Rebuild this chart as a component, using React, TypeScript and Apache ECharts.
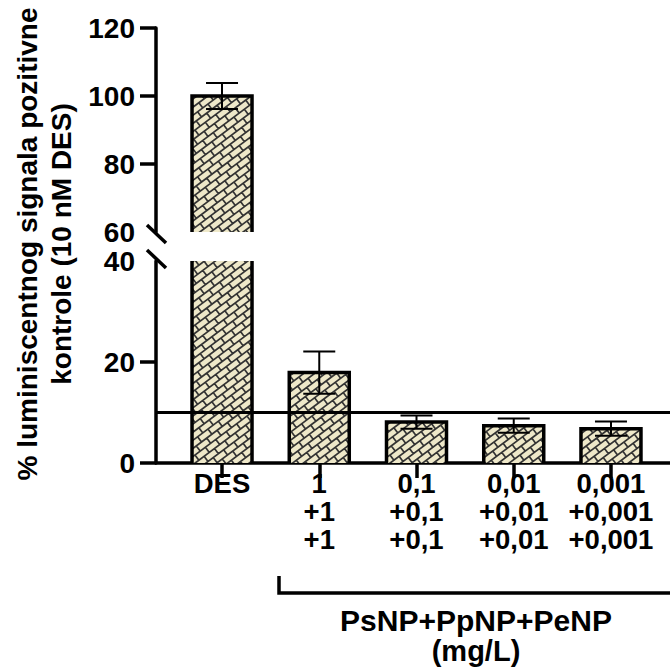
import React, { useEffect, useRef } from 'react';
import * as echarts from 'echarts';

// ---------- data ----------
const categories = ['DES', '1\n+1\n+1', '0,1\n+0,1\n+0,1', '0,01\n+0,01\n+0,01', '0,001\n+0,001\n+0,001'];
const means = [100, 17.9, 8.1, 7.4, 6.8];
const errors = [3.8, 4.2, 1.3, 1.4, 1.4];
const thresholdValue = 10;
const upperRange = [60, 120];
const lowerRange = [0, 40];
const upperTickValues = [80, 100, 120];
const lowerTickValues = [0, 20];
const yTitleLines = ['% luminiscentnog signala pozitivne', 'kontrole (10 nM DES)'];
const groupLabelLines = ['PsNP+PpNP+PeNP', '(mg/L)'];

// ---------- style / layout ----------
const FONT = "'Liberation Sans', Arial, sans-serif";
const BRICK_LIGHT = '#EEE8C9';
const BRICK_DARK = '#333333';
const X_MIN = -0.679;
const X_MAX = 4.607;
const BAR_HALF = 30;
const CAP_HALF = 16;

function makeBrickPattern(): any {
  const T = 65;
  const L = T / 5;
  const H = T / 10;
  const c = document.createElement('canvas');
  c.width = T;
  c.height = T;
  const ctx = c.getContext('2d')!;
  ctx.fillStyle = BRICK_LIGHT;
  ctx.fillRect(0, 0, T, T);
  ctx.setTransform(0.8, -0.6, 0.6, 0.8, 0, 0);
  ctx.strokeStyle = BRICK_DARK;
  ctx.lineWidth = 1.7;
  ctx.beginPath();
  const R = T * 1.7;
  const jMin = Math.floor(-R / H), jMax = Math.ceil(R / H);
  const kMin = Math.floor(-R / L) - 1, kMax = Math.ceil(R / L) + 1;
  for (let j = jMin; j <= jMax; j++) {
    const v = j * H;
    ctx.moveTo(-R - L, v);
    ctx.lineTo(R + L, v);
    const off = j % 2 !== 0 ? L / 2 : 0;
    for (let k = kMin; k <= kMax; k++) {
      const u = k * L + off;
      ctx.moveTo(u, v);
      ctx.lineTo(u, v + H);
    }
  }
  ctx.stroke();
  return { image: c, repeat: 'repeat', imageWidth: T, imageHeight: T };
}

export default function App() {
  const ref = useRef<HTMLDivElement>(null);
  useEffect(() => {
    document.body.style.margin = '0';
    const chart = echarts.init(ref.current!, null, { renderer: 'svg' });
    const pattern = makeBrickPattern();
    const data = means.map((m, i) => [i, m, errors[i]]);
    const stroke = { stroke: '#000', lineWidth: 3.5, fill: 'none', lineJoin: 'miter', lineCap: 'butt' };
    const errStroke = { stroke: '#000', lineWidth: 2, fill: 'none' };

    const makeRender = (lo: number, hi: number) => (_p: any, api: any) => {
      const i = api.value(0);
      const v = api.value(1);
      const e = api.value(2);
      const children: any[] = [];
      if (v > lo) {
        const top = Math.min(v, hi);
        const pT = api.coord([i, top]);
        const pB = api.coord([i, lo]);
        const x0 = pT[0] - BAR_HALF;
        const x1 = pT[0] + BAR_HALF;
        children.push({
          type: 'rect',
          shape: { x: x0, y: pT[1], width: x1 - x0, height: pB[1] - pT[1] },
          style: { fill: pattern },
        });
        if (v <= hi) {
          children.push({
            type: 'polyline',
            shape: { points: [[x0, pB[1]], [x0, pT[1]], [x1, pT[1]], [x1, pB[1]]] },
            style: stroke,
          });
        } else {
          children.push({ type: 'line', shape: { x1: x0, y1: pB[1], x2: x0, y2: pT[1] }, style: stroke });
          children.push({ type: 'line', shape: { x1: x1, y1: pB[1], x2: x1, y2: pT[1] }, style: stroke });
        }
      }
      if (v >= lo && v <= hi) {
        const pU = api.coord([i, v + e]);
        const pD = api.coord([i, v - e]);
        const cx = pU[0];
        children.push({ type: 'line', shape: { x1: cx, y1: pU[1], x2: cx, y2: pD[1] }, style: errStroke });
        children.push({ type: 'line', shape: { x1: cx - CAP_HALF, y1: pU[1], x2: cx + CAP_HALF, y2: pU[1] }, style: errStroke });
        children.push({ type: 'line', shape: { x1: cx - CAP_HALF, y1: pD[1], x2: cx + CAP_HALF, y2: pD[1] }, style: errStroke });
      }
      return { type: 'group', children };
    };

    const labelStyle = { color: '#000', fontFamily: FONT, fontWeight: 'bold' as const };
    const axisLineStyle = { color: '#000', width: 3.5 };

    chart.setOption({
      animation: false,
      backgroundColor: '#fff',
      grid: [
        { left: 156, right: 0, top: 28, height: 204 },
        { left: 156, right: 0, top: 261, height: 202 },
      ],
      xAxis: [
        { type: 'value', gridIndex: 0, min: X_MIN, max: X_MAX, show: false },
        {
          type: 'value',
          gridIndex: 1,
          min: X_MIN,
          max: X_MAX,
          splitLine: { show: false },
          axisLine: { show: true, onZero: false, lineStyle: axisLineStyle },
          axisTick: { show: true, customValues: [0, 1, 2, 3, 4], length: 15, lineStyle: axisLineStyle },
          axisLabel: {
            customValues: [0, 1, 2, 3, 4],
            formatter: (v: number) => categories[Math.round(v)],
            fontSize: 27.5,
            lineHeight: 28,
            margin: 6,
            ...labelStyle,
          },
        },
      ],
      yAxis: [
        {
          type: 'value',
          gridIndex: 0,
          min: upperRange[0],
          max: upperRange[1],
          interval: 20,
          splitLine: { show: false },
          axisLine: { show: true, onZero: false, lineStyle: axisLineStyle },
          axisTick: { show: true, customValues: upperTickValues, length: 16, lineStyle: axisLineStyle },
          axisLabel: { fontSize: 28, margin: 21, ...labelStyle },
        },
        {
          type: 'value',
          gridIndex: 1,
          min: lowerRange[0],
          max: lowerRange[1],
          interval: 20,
          splitLine: { show: false },
          axisLine: { show: true, onZero: false, lineStyle: axisLineStyle },
          axisTick: { show: true, customValues: lowerTickValues, length: 16, lineStyle: axisLineStyle },
          axisLabel: { fontSize: 28, margin: 21, ...labelStyle },
        },
      ],
      series: [
        {
          type: 'custom',
          name: 'upper',
          xAxisIndex: 0,
          yAxisIndex: 0,
          data,
          renderItem: makeRender(upperRange[0], upperRange[1]),
          z: 2,
        },
        {
          type: 'custom',
          name: 'lower',
          xAxisIndex: 1,
          yAxisIndex: 1,
          data,
          renderItem: makeRender(lowerRange[0], lowerRange[1]),
          z: 2,
        },
        {
          type: 'line',
          name: 'threshold',
          xAxisIndex: 1,
          yAxisIndex: 1,
          data: [[X_MIN, thresholdValue], [X_MAX, thresholdValue]],
          showSymbol: false,
          symbol: 'none',
          lineStyle: { color: '#000', width: 3 },
          silent: true,
          z: 5,
        },
      ],
      graphic: [
        { type: 'line', shape: { x1: 147, y1: 225, x2: 166, y2: 243 }, style: { stroke: '#000', lineWidth: 3.5 }, z: 10 },
        { type: 'line', shape: { x1: 147, y1: 250, x2: 166, y2: 268 }, style: { stroke: '#000', lineWidth: 3.5 }, z: 10 },
        {
          type: 'polyline',
          shape: { points: [[279, 576], [279, 593], [672, 593]] },
          style: { stroke: '#000', lineWidth: 3.5, fill: 'none', lineJoin: 'miter' },
        },
        {
          type: 'text',
          x: 476,
          y: 620,
          style: { text: groupLabelLines[0], fontSize: 30, fontWeight: 'bold', fontFamily: FONT, fill: '#000', align: 'center', verticalAlign: 'middle' },
        },
        {
          type: 'text',
          x: 476,
          y: 651,
          style: { text: groupLabelLines[1], fontSize: 29, fontWeight: 'bold', fontFamily: FONT, fill: '#000', align: 'center', verticalAlign: 'middle' },
        },
        {
          type: 'text',
          x: 27,
          y: 244,
          rotation: Math.PI / 2,
          style: { text: yTitleLines[0], fontSize: 28, fontWeight: 'bold', fontFamily: FONT, fill: '#000', align: 'center', verticalAlign: 'middle' },
        },
        {
          type: 'text',
          x: 61,
          y: 244,
          rotation: Math.PI / 2,
          style: { text: yTitleLines[1], fontSize: 28, fontWeight: 'bold', fontFamily: FONT, fill: '#000', align: 'center', verticalAlign: 'middle' },
        },
      ],
    });
    return () => chart.dispose();
  }, []);
  return <div ref={ref} style={{ width: 670, height: 668 }} />;
}
